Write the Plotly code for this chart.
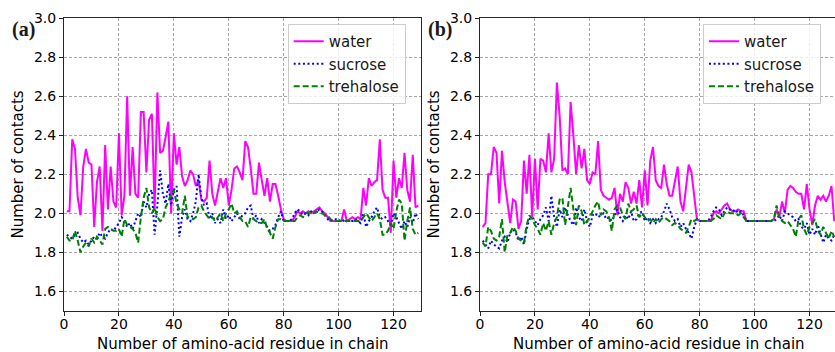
import plotly.graph_objects as go

# Residue index along the lysozyme chain (129 residues)
residues = list(range(1, 130))

# ---- panel (a) ----
water_a = [
    2.01, 2.01, 2.38, 2.33, 2.08, 1.99, 2.24, 2.33, 2.26, 2.25,
    1.93, 2.16, 2.24, 1.91, 2.35, 2.02, 2.24, 2.06, 2.03, 2.41,
    1.99, 2.09, 2.60, 2.09, 2.34, 2.10, 2.08, 2.52, 2.52, 2.21,
    2.48, 2.51, 2.02, 2.62, 2.31, 2.32, 2.39, 2.47, 2.00, 2.41,
    2.25, 2.34, 2.19, 2.14, 2.17, 2.22, 2.20, 2.14, 2.17, 2.07,
    2.06, 2.08, 2.27, 2.10, 2.04, 2.12, 2.18, 2.13, 2.18, 2.04,
    2.12, 2.23, 2.24, 2.21, 2.17, 2.37, 2.34, 2.23, 2.10, 2.10,
    2.26, 2.17, 2.09, 2.18, 2.06, 2.15, 2.15, 2.09, 2.02, 1.97,
    1.96, 1.96, 1.96, 1.98, 2.01, 2.00, 2.01, 2.00, 2.01, 2.00,
    2.01, 2.02, 2.03, 2.01, 2.00, 1.98, 1.96, 1.96, 1.96, 1.96,
    1.96, 2.02, 1.96, 1.97, 1.98, 1.97, 1.98, 1.97, 2.13, 2.04,
    2.18, 2.14, 2.16, 2.17, 2.38, 2.12, 2.08, 2.08, 1.90, 2.27,
    2.08, 2.18, 2.13, 2.31, 2.12, 2.06, 2.30, 2.03, 2.04,
]
sucrose_a = [
    1.89, 1.88, 1.87, 1.89, 1.90, 1.87, 1.85, 1.86, 1.84, 1.86,
    1.88, 1.87, 1.90, 1.88, 1.87, 1.90, 1.92, 1.91, 1.93, 1.95,
    1.98, 1.96, 1.93, 1.95, 1.92, 1.96, 2.00, 1.98, 2.06, 2.03,
    2.10, 2.12, 1.89, 2.04, 2.22, 2.10, 2.05, 2.15, 2.04, 2.12,
    2.14, 1.88, 1.98, 2.02, 1.97, 1.96, 2.00, 2.06, 2.20, 2.08,
    2.04, 2.05, 1.97, 2.00, 1.95, 1.97, 1.95, 2.02, 1.97, 1.99,
    1.96, 1.98, 2.00, 1.97, 1.99, 2.00, 2.03, 2.04, 1.97, 1.99,
    1.95, 1.97, 1.95, 1.93, 1.91, 1.92, 1.94, 1.98, 2.01, 1.96,
    1.96, 1.96, 1.97, 2.00, 2.02, 2.01, 1.99, 2.00, 1.99, 2.01,
    2.00, 2.01, 2.02, 2.01, 1.99, 1.97, 1.96, 1.97, 1.97, 1.96,
    1.97, 1.96, 1.96, 1.96, 1.96, 1.97, 1.96, 1.95, 2.00, 1.93,
    1.96, 1.98, 2.01, 2.03, 1.98, 1.97, 1.98, 1.96, 1.94, 2.00,
    1.98, 1.95, 1.92, 1.96, 1.93, 1.98, 1.95, 2.00, 1.97,
]
trehalose_a = [
    1.88, 1.86, 1.86, 1.91, 1.86, 1.80, 1.83, 1.85, 1.83, 1.87,
    1.85, 1.88, 1.86, 1.84, 1.92, 1.93, 1.92, 1.91, 1.91, 1.92,
    1.88, 1.97, 1.94, 1.93, 1.92, 1.90, 1.85, 1.98, 2.08, 2.13,
    2.03, 2.00, 2.03, 1.98, 1.96, 1.97, 2.03, 2.06, 2.10, 2.12,
    2.05, 2.02, 2.00, 2.09, 1.98, 1.98, 1.97, 1.98, 2.03, 2.04,
    2.01, 1.99, 1.97, 1.98, 1.96, 1.98, 2.00, 1.96, 2.00, 2.02,
    2.05, 2.00, 2.01, 1.98, 1.96, 1.96, 1.93, 1.98, 1.97, 1.96,
    1.95, 1.95, 1.97, 1.92, 1.90, 1.87, 1.93, 1.97, 1.97, 1.96,
    1.96, 1.96, 1.96, 1.96, 1.98, 1.99, 1.98, 2.00, 2.00, 2.01,
    2.00, 2.01, 2.00, 2.00, 1.99, 1.99, 1.97, 1.96, 1.96, 1.96,
    1.96, 1.96, 1.96, 1.96, 1.96, 1.96, 1.96, 1.96, 1.98, 2.00,
    1.98, 1.96, 1.98, 2.00, 1.97, 1.89, 1.89, 1.91, 1.95, 1.92,
    2.01, 2.07, 2.05, 1.86, 1.96, 2.03, 1.92, 1.89, 1.90,
]

# ---- panel (b) ----
water_b = [
    1.93, 1.95, 2.20, 2.20, 2.34, 2.31, 2.05, 2.32, 2.16, 2.06,
    1.95, 2.07, 2.06, 1.92, 1.96, 2.27, 2.10, 2.30, 1.98, 2.28,
    2.02, 2.28, 2.27, 2.21, 2.41, 2.21, 2.28, 2.67, 2.50, 2.22,
    2.23, 2.20, 2.57, 2.40, 2.20, 2.35, 2.23, 2.33, 2.17, 2.15,
    2.21, 2.20, 2.37, 2.12, 2.09, 2.08, 2.07, 2.08, 2.13, 1.99,
    2.10, 2.06, 2.16, 2.13, 2.05, 2.11, 2.05, 2.17, 2.03, 2.22,
    2.04, 2.27, 2.34, 2.17, 2.14, 2.13, 2.25, 2.15, 2.09, 2.09,
    2.16, 2.24, 2.06, 2.01, 2.13, 2.25, 2.21, 2.09, 1.97, 1.96,
    1.96, 1.96, 1.96, 1.96, 2.00, 2.01, 2.00, 2.02, 2.04, 2.05,
    2.02, 2.01, 2.01, 2.02, 2.01, 2.01, 1.96, 1.96, 1.96, 1.96,
    1.96, 1.96, 1.96, 1.96, 1.96, 1.96, 1.97, 2.02, 1.98, 2.06,
    2.00, 2.12, 2.14, 2.13, 2.11, 2.10, 2.10, 2.02, 2.15, 2.02,
    1.94, 2.04, 2.09, 2.07, 2.09, 2.06, 2.09, 2.14, 1.96,
]
sucrose_b = [
    1.86, 1.84, 1.82, 1.86, 1.84, 1.83, 1.82, 1.86, 1.88, 1.85,
    1.90, 1.92, 1.90, 1.86, 1.88, 1.84, 1.92, 1.97, 1.98, 1.96,
    1.94, 1.97, 1.99, 2.03, 1.96, 2.09, 1.98, 1.93, 2.02, 1.98,
    2.03, 1.99, 1.96, 1.94, 2.03, 1.98, 1.96, 2.02, 1.96, 1.93,
    1.99, 2.00, 1.98, 1.99, 2.00, 1.97, 1.98, 1.96, 1.99, 2.02,
    1.98, 1.96, 1.99, 1.97, 2.01, 1.96, 1.97, 2.00, 2.01, 1.96,
    1.98, 1.95, 1.97, 1.95, 1.97, 1.98, 2.01, 2.05, 2.02, 1.98,
    1.96, 1.97, 1.93, 1.95, 1.92, 1.90, 1.87, 1.93, 1.97, 1.96,
    1.96, 1.96, 1.96, 1.98, 2.01, 2.03, 2.02, 1.99, 2.01, 2.03,
    2.02, 2.01, 2.02, 2.00, 2.01, 1.99, 1.96, 1.96, 1.96, 1.96,
    1.96, 1.96, 1.96, 1.96, 1.96, 1.96, 1.96, 1.97, 1.99, 1.96,
    2.01, 2.00, 1.99, 1.98, 1.96, 1.97, 1.93, 1.92, 1.95, 1.89,
    1.92, 1.89, 1.94, 1.90, 1.85, 1.89, 1.87, 1.86, 1.89,
]
trehalose_b = [
    1.85, 1.83, 1.93, 1.91, 1.87, 1.86, 1.88, 1.97, 1.80, 1.89,
    1.90, 1.93, 1.91, 1.87, 1.86, 1.85, 1.94, 1.99, 1.97, 1.94,
    1.92, 1.89, 1.95, 1.91, 1.96, 1.89, 1.95, 1.98, 2.07, 2.08,
    1.94, 2.05, 2.13, 2.02, 1.94, 2.04, 2.01, 1.94, 1.96, 1.98,
    2.01, 2.04, 2.06, 1.99, 2.02, 2.01, 1.98, 1.91, 2.02, 2.04,
    2.03, 1.99, 1.97, 2.05, 2.01, 2.02, 2.04, 1.98, 2.00, 1.98,
    1.96, 1.97, 1.95, 1.97, 1.95, 1.97, 1.98, 1.97, 1.96, 1.94,
    1.95, 1.94, 1.92, 1.91, 1.90, 1.93, 1.97, 1.96, 1.97, 1.96,
    1.96, 1.96, 1.96, 1.96, 1.97, 1.99, 1.98, 1.97, 2.00, 2.01,
    2.00, 2.00, 2.00, 1.99, 2.00, 1.98, 1.96, 1.96, 1.96, 1.96,
    1.96, 1.96, 1.96, 1.96, 1.96, 1.96, 1.97, 2.04, 1.98, 1.96,
    1.95, 1.96, 1.94, 1.92, 1.88, 1.97, 1.99, 1.92, 1.89, 1.93,
    1.95, 1.97, 1.91, 1.89, 1.93, 1.90, 1.87, 1.91, 1.88,
]

x_ticks = [0, 20, 40, 60, 80, 100, 120]
y_ticks = [1.6, 1.8, 2.0, 2.2, 2.4, 2.6, 2.8, 3.0]
y_tick_text = ["1.6", "1.8", "2.0", "2.2", "2.4", "2.6", "2.8", "3.0"]
series_names = ["water", "sucrose", "trehalose"]

W, H = 835, 352
FONT = "DejaVu Sans"

styles = {
    "water": dict(color="#ff00ff", width=2, dash="solid"),
    "sucrose": dict(color="#0000ff", width=2, dash="2px,2.6px"),
    "trehalose": dict(color="#008000", width=2, dash="6px,3px"),
}

fig = go.Figure()

panels = [
    ("x", "y", "legend", [water_a, sucrose_a, trehalose_a]),
    ("x2", "y2", "legend2", [water_b, sucrose_b, trehalose_b]),
]
for xa, ya, leg, data in panels:
    for name, vals in zip(series_names, data):
        fig.add_trace(go.Scatter(
            x=residues, y=vals, mode="lines", name=name,
            line=styles[name], xaxis=xa, yaxis=ya,
            legend=leg, legendgroup=leg + name,
        ))

def px_x(p):
    return p / W

def px_y(p):
    return 1 - p / H

# plot-area pixel geometry
top_px, bot_px = 18.3, 310.8
a_left, a_right = 64.0, 421.0
b_left = 480.0
unit = (a_right - a_left) / 130.0
b_max = (W - b_left) / unit

axis_common = dict(
    automargin=False,
    showgrid=True, gridcolor="#a8a8a8", griddash="3px,2px", gridwidth=0.8,
    showline=True, linecolor="#262626", linewidth=1,
    ticks="outside", ticklen=4, tickcolor="#262626", tickwidth=1,
    tickfont=dict(family=FONT, size=14, color="black"),
    zeroline=False,
)
x_common = dict(axis_common, ticklabelstandoff=-4)

fig.update_layout(
    width=W, height=H, autosize=False,
    margin=dict(l=0, r=0, t=0, b=0, pad=0),
    paper_bgcolor="white", plot_bgcolor="white",
    showlegend=True,
    xaxis=dict(x_common, domain=[px_x(a_left), px_x(a_right)], range=[0, 130],
               tickvals=x_ticks, mirror=True, anchor="y"),
    yaxis=dict(axis_common, domain=[px_y(bot_px), px_y(top_px)], range=[1.5, 3.0],
               tickvals=y_ticks, ticktext=y_tick_text, mirror=True, anchor="x"),
    xaxis2=dict(x_common, domain=[px_x(b_left), 1.0], range=[0, b_max],
                tickvals=x_ticks, mirror=True, anchor="y2"),
    yaxis2=dict(axis_common, domain=[px_y(bot_px), px_y(top_px)], range=[1.5, 3.0],
                tickvals=y_ticks, ticktext=y_tick_text, anchor="x2"),
)

legend_common = dict(
    bgcolor="rgba(255,255,255,0.8)", bordercolor="#cccccc", borderwidth=1,
    font=dict(family=FONT, size=15, color="#1a1a1a"),
    xanchor="left", yanchor="top", tracegroupgap=0, itemwidth=30,
)
fig.update_layout(
    legend=dict(legend_common, x=px_x(287.7), y=px_y(24)),
    legend2=dict(legend_common, x=px_x(703), y=px_y(24)),
)

annotations = []
for left, label in [(a_left, "(a)"), (b_left, "(b)")]:
    annotations.append(dict(
        text="<b>%s</b>" % label, xref="paper", yref="paper",
        x=px_x(left - 54), y=px_y(30), xanchor="left", yanchor="middle",
        showarrow=False, font=dict(family="Liberation Serif", size=20, color="#1a1a1a"),
    ))
    annotations.append(dict(
        text="Number of contacts", xref="paper", yref="paper",
        x=px_x(left - 46), y=px_y((top_px + bot_px) / 2), textangle=-90,
        xanchor="center", yanchor="middle", showarrow=False,
        font=dict(family=FONT, size=15, color="black"),
    ))
for center in [(a_left + a_right) / 2, b_left + (a_right - a_left) / 2]:
    annotations.append(dict(
        text="Number of amino-acid residue in chain", xref="paper", yref="paper",
        x=px_x(center), y=px_y(344), xanchor="center", yanchor="middle",
        showarrow=False, font=dict(family=FONT, size=15, color="black"),
    ))
fig.update_layout(annotations=annotations)

fig.write_html("out.html")
